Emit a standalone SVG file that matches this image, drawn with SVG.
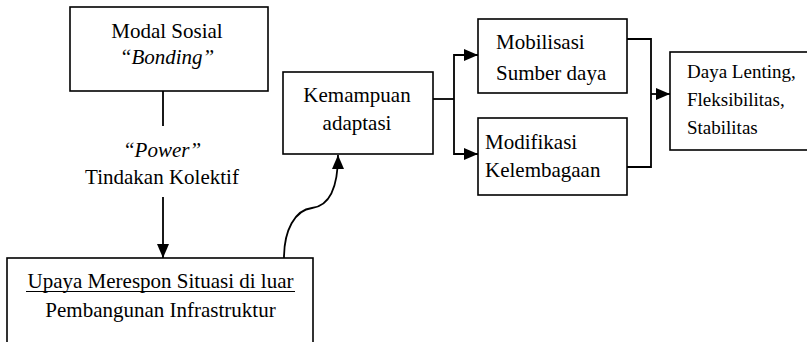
<svg xmlns="http://www.w3.org/2000/svg" width="807" height="342" viewBox="0 0 807 342" font-family="Liberation Serif, Times New Roman, serif">
<style>
.box{fill:#fff;stroke:#000;stroke-width:1.6}
.t{font-size:21px;fill:#000}
.s{font-size:19px;fill:#000}
.c{text-anchor:middle}
.i{font-style:italic}
.ln{fill:none;stroke:#000;stroke-width:1.8}
</style>
<defs>
<marker id="ah" markerUnits="userSpaceOnUse" markerWidth="14" markerHeight="12" refX="14" refY="6" orient="auto">
<path d="M0,0 L14,6 L0,12 Z" fill="#000"/>
</marker>
</defs>
<rect width="807" height="342" fill="#fff"/>
<g id="connectors">
<line class="ln" x1="163" y1="91" x2="163" y2="126"/>
<line class="ln" x1="163" y1="197" x2="163" y2="258" marker-end="url(#ah)"/>
<path class="ln" d="M284 258 C284 230 295 210 312 208 C328 206 338 190 338 155" marker-end="url(#ah)"/>
<polyline class="ln" points="433,99 454,99"/>
<polyline class="ln" points="478,55 454,55 454,154 478,154"/>
<line class="ln" x1="454" y1="55" x2="478" y2="55" marker-end="url(#ah)"/>
<line class="ln" x1="454" y1="154" x2="478" y2="154" marker-end="url(#ah)"/>
<polyline class="ln" points="627,39 651,39 651,167 627,167"/>
<line class="ln" x1="651" y1="94" x2="670" y2="94" marker-end="url(#ah)"/>
</g>
<g id="modal">
<rect class="box" x="70" y="7" width="198" height="84"/>
<text class="t c" x="167" y="38" font-family="Liberation Serif, serif">Modal Sosial</text>
<text class="t c i" x="167" y="64" font-family="Liberation Serif, serif">“Bonding”</text>
</g>
<g id="power">
<text class="t c i" x="162" y="157" font-family="Liberation Serif, serif">“Power”</text>
<text class="t c" x="162" y="184" font-family="Liberation Serif, serif">Tindakan Kolektif</text>
</g>
<g id="upaya">
<rect class="box" x="7" y="258" width="306" height="100"/>
<text class="t c" x="160.5" y="288" font-family="Liberation Serif, serif">Upaya Merespon Situasi di luar</text>
<line x1="26" y1="291.5" x2="295" y2="291.5" stroke="#000" stroke-width="1.2"/>
<text class="t c" x="160.5" y="317" font-family="Liberation Serif, serif">Pembangunan Infrastruktur</text>
</g>
<g id="kemampuan">
<rect class="box" x="283" y="72" width="150" height="82"/>
<text class="t c" x="357" y="102" font-family="Liberation Serif, serif">Kemampuan</text>
<text class="t c" x="357" y="130" font-family="Liberation Serif, serif">adaptasi</text>
</g>
<g id="mobilisasi">
<rect class="box" x="478" y="19" width="149" height="74"/>
<text class="t" x="496" y="49" font-family="Liberation Serif, serif">Mobilisasi</text>
<text class="t" x="496" y="80" font-family="Liberation Serif, serif">Sumber daya</text>
</g>
<g id="modifikasi">
<rect class="box" x="478" y="118" width="149" height="77"/>
<text class="t" x="485" y="149" font-family="Liberation Serif, serif">Modifikasi</text>
<text class="t" x="485" y="177" font-family="Liberation Serif, serif">Kelembagaan</text>
</g>
<g id="daya">
<rect class="box" x="670" y="52" width="145" height="98"/>
<text class="s" x="687" y="78" font-family="Liberation Serif, serif">Daya Lenting,</text>
<text class="s" x="687" y="106" font-family="Liberation Serif, serif">Fleksibilitas,</text>
<text class="s" x="687" y="134" font-family="Liberation Serif, serif">Stabilitas</text>
</g>
</svg>
